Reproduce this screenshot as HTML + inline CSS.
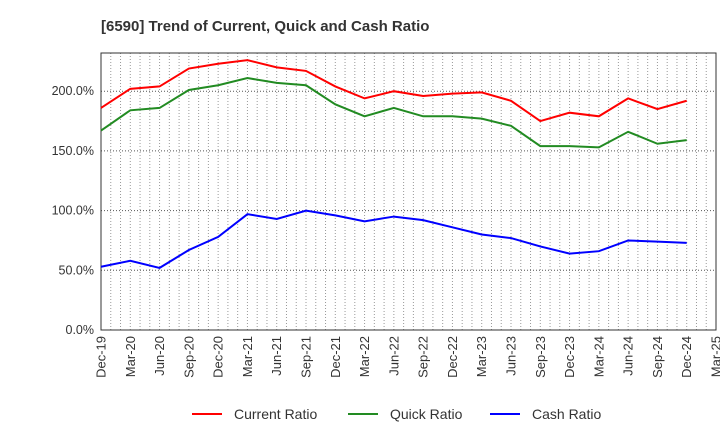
<!DOCTYPE html>
<html><head><meta charset="utf-8"><style>
body{margin:0;background:#fff;font-family:"Liberation Sans",sans-serif}
</style></head><body>
<svg id="c" width="720" height="440" xmlns="http://www.w3.org/2000/svg">
<text x="101" y="31" font-size="15" font-weight="bold" fill="#333">[6590]  Trend of Current, Quick and Cash Ratio</text>
</svg>
<script>
const xLabels=["Dec-19","Mar-20","Jun-20","Sep-20","Dec-20","Mar-21","Jun-21","Sep-21","Dec-21","Mar-22","Jun-22","Sep-22","Dec-22","Mar-23","Jun-23","Sep-23","Dec-23","Mar-24","Jun-24","Sep-24","Dec-24","Mar-25"];
const yTicks=[0,50,100,150,200];
const currentRatio=[186,202,204,219,223,226,220,217,204,194,200,196,198,199,192,175,182,179,194,185,192];
const quickRatio=[167,184,186,201,205,211,207,205,189,179,186,179,179,177,171,154,154,153,166,156,159];
const cashRatio=[53,58,52,67,78,97,93,100,96,91,95,92,86,80,77,70,64,66,75,74,73];
const svg=document.getElementById('c');const NS='http://www.w3.org/2000/svg';
const L=101,R=716,T=53,B=330,YMAX=232;
const xs=i=>L+(R-L)*i/(xLabels.length-1);
const ys=v=>B-(B-T)*v/YMAX;
function mk(t,a){const e=document.createElementNS(NS,t);for(const k in a)e.setAttribute(k,a[k]);svg.appendChild(e);return e;}
for(let m=1;m<(xLabels.length-1)*3;m++){const x=L+(R-L)*m/((xLabels.length-1)*3);
const g=mk('line',{x1:x,x2:x,y1:T,y2:B,stroke:'#999','stroke-dasharray':'1,2','stroke-width':1});

}
yTicks.forEach(v=>{const y=ys(v);
if(v>0){const g=mk('line',{x1:L,x2:R,y1:y,y2:y,stroke:'#555','stroke-dasharray':'1,2'});

}
const t=mk('text',{x:L-7,y:y+4,'text-anchor':'end','font-size':12.5,fill:'#333'});t.textContent=v.toFixed(1)+'%';

});
const fr=mk('rect',{x:L,y:T,width:R-L,height:B-T,fill:'none',stroke:'#333'});


xLabels.forEach((s,i)=>{const x=xs(i);const t=mk('text',{x:0,y:0,'text-anchor':'end','font-size':13,fill:'#333',transform:`translate(${x+4.5},${B+6}) rotate(-90)`});t.textContent=s;

});
[[currentRatio,'#f00','current-ratio-line'],[quickRatio,'#228b22','quick-ratio-line'],[cashRatio,'#00f','cash-ratio-line']].forEach(([d,c,n])=>{
const p=mk('polyline',{points:d.map((v,i)=>xs(i)+','+ys(v)).join(' '),fill:'none',stroke:c,'stroke-width':2});

});
[['Current Ratio','#f00',192],['Quick Ratio','#228b22',348],['Cash Ratio','#00f',490]].forEach(([s,c,x])=>{
const l=mk('line',{x1:x,x2:x+30,y1:414,y2:414,stroke:c,'stroke-width':2});


const t=mk('text',{x:x+42,y:419,'font-size':14,fill:'#333'});t.textContent=s;

});
</script>
</body></html>
